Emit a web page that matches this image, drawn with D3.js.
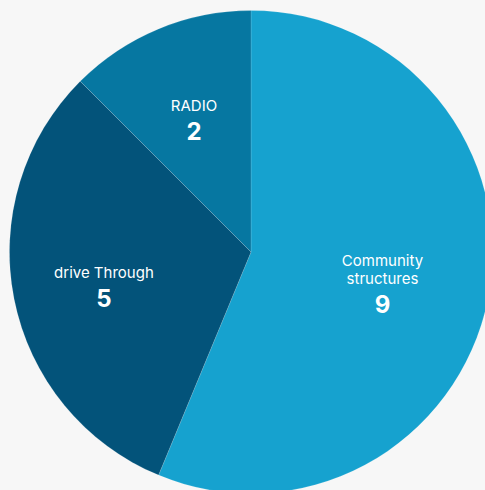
<!DOCTYPE html>
<html>
<head>
<meta charset="utf-8">
<script src="https://cdn.jsdelivr.net/npm/d3@7"></script>
<style>
  html, body { margin: 0; padding: 0; background: #f7f7f7; }
  svg { display: block; }
  text { font-family: Inter, "Noto Sans", sans-serif; fill: #ffffff; }
</style>
</head>
<body>
<svg id="chart" width="485" height="490"></svg>
<script>
// Channel counts
const categories = ["Community structures", "drive Through", "RADIO"];
const values = [9, 5, 2];
// Wrapped label lines per category
const labelLines = [["Community", "structures"], ["drive Through"], ["RADIO"]];
const colors = ["#16a2cf", "#03537a", "#0677a1"];

const width = 485, height = 490;
const cx = 251, cy = 252, radius = 241.5;
// radial placement of each label, as a fraction of the radius
const labelFrac = [0.555, 0.621, 0.617];
const labelDy = 6;

const data = categories.map((c, i) => ({ name: c, value: values[i], lines: labelLines[i], i }));

const svg = d3.select("#chart");
const g = svg.append("g").attr("transform", `translate(${cx},${cy})`);

const pie = d3.pie().value(d => d.value).sort(null);
const arc = d3.arc().innerRadius(0).outerRadius(radius);
const color = d3.scaleOrdinal().domain(categories).range(colors);

const arcs = pie(data);

g.selectAll("path.slice")
  .data(arcs)
  .join("path")
  .attr("class", "slice")
  .attr("d", arc)
  .attr("fill", d => color(d.data.name))
  .attr("stroke", "rgba(255,255,255,0.25)")
  .attr("stroke-width", 0.5);

const nameSize = 15, nameGap = 18, valueSize = 24, valueGap = 29;

const labels = g.selectAll("g.label")
  .data(arcs)
  .join("g")
  .attr("class", "label")
  .attr("transform", d => {
    const r = radius * labelFrac[d.data.i];
    const a = (d.startAngle + d.endAngle) / 2;
    const x = Math.sin(a) * r, y = -Math.cos(a) * r + labelDy;
    // vertically center the text block on the anchor point
    const n = d.data.lines.length;
    const capH = nameSize * 0.727;
    const blockH = (n - 1) * nameGap + valueGap + capH;
    const top = y - blockH / 2 + capH;
    return `translate(${x},${top})`;
  });

labels.each(function(d) {
  const sel = d3.select(this);
  d.data.lines.forEach((line, k) => {
    sel.append("text")
      .attr("text-anchor", "middle")
      .attr("y", k * nameGap)
      .attr("font-size", nameSize)
      .attr("font-weight", 400)
      .text(line);
  });
  sel.append("text")
    .attr("text-anchor", "middle")
    .attr("y", (d.data.lines.length - 1) * nameGap + valueGap)
    .attr("font-size", valueSize)
    .attr("font-weight", 700)
    .text(d.data.value);
});
</script>
</body>
</html>
